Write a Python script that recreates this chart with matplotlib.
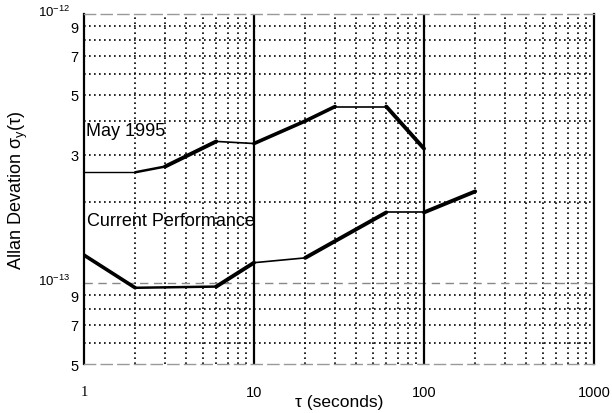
import matplotlib
matplotlib.use("Agg")
import matplotlib.pyplot as plt
import matplotlib.transforms as mtransforms
from matplotlib.ticker import FixedLocator, NullFormatter, NullLocator

plt.rcParams['font.family'] = ['Liberation Sans', 'DejaVu Sans']
plt.rcParams['mathtext.fontset'] = 'custom'
plt.rcParams['mathtext.rm'] = 'Liberation Sans'
plt.rcParams['mathtext.it'] = 'Liberation Sans'
plt.rcParams['mathtext.default'] = 'regular'

# data
tau_may = [1, 2, 3, 6, 10, 20, 30, 60, 100]
adev_may = [2.58e-13, 2.58e-13, 2.71e-13, 3.36e-13, 3.30e-13, 4.0e-13, 4.53e-13, 4.53e-13, 3.16e-13]

tau_now = [1, 2, 6, 10, 20, 60, 100, 200]
adev_now = [1.27e-13, 9.6e-14, 9.7e-14, 1.19e-13, 1.24e-13, 1.83e-13, 1.83e-13, 2.19e-13]

xticks = [1, 10, 100, 1000]
xticklabels = ["1", "10", "100", "1000"]
yticks = [5e-14, 7e-14, 9e-14, 1e-13, 3e-13, 5e-13, 7e-13, 9e-13, 1e-12]
yticklabels = ["5", "7", "9", r"$10^{-13}$", "3", "5", "7", "9", r"$10^{-12}$"]

# scanned line weight varies segment by segment
w_may = [1.0, 1.8, 2.8, 1.2, 2.6, 2.6, 1.2, 2.8]
w_now = [2.6, 1.8, 2.8, 1.2, 2.8, 1.2, 2.8]

fig = plt.figure(figsize=(6.12, 4.14), dpi=100)
ax = fig.add_axes([84/612, 1-365/414, 510/612, 350/414])
ax.set_xscale('log')
ax.set_yscale('log')
ax.set_xlim(1, 1000)
ax.set_ylim(5e-14, 1e-12)

dot = (0, (1, 2))
# minor grid lines
for dec in [1, 10, 100]:
    for m in range(2, 10):
        ax.axvline(dec*m, color='black', ls=dot, lw=1.2, zorder=1)
for v in [6e-14, 7e-14, 8e-14, 9e-14] + [m*1e-13 for m in range(2, 10)]:
    ax.axhline(v, color='black', ls=dot, lw=1.2, zorder=1)
ax.axhline(1e-13, color='#888888', ls=(0, (6, 4)), lw=1.0, zorder=1)
for v in [10, 100]:
    ax.axvline(v, color='black', lw=1.6, zorder=2)

for i in range(len(tau_may)-1):
    ax.plot(tau_may[i:i+2], adev_may[i:i+2], color='black', lw=w_may[i],
            solid_capstyle='round', zorder=3)
for i in range(len(tau_now)-1):
    ax.plot(tau_now[i:i+2], adev_now[i:i+2], color='black', lw=w_now[i],
            solid_capstyle='round', zorder=3)

ax.text(1.03, 3.7e-13, "May 1995", fontsize=13, va='center', ha='left')
ax.text(1.04, 1.71e-13, "Current Performance", fontsize=13, va='center', ha='left')

ax.xaxis.set_major_locator(FixedLocator(xticks))
ax.xaxis.set_minor_locator(NullLocator())
ax.set_xticklabels(xticklabels)
ax.yaxis.set_major_locator(FixedLocator(yticks))
ax.yaxis.set_minor_locator(NullLocator())
ax.yaxis.set_minor_formatter(NullFormatter())
ax.set_yticklabels(yticklabels)
ax.tick_params(axis='x', length=0, pad=15, labelsize=10.5)
ax.tick_params(axis='y', length=0, pad=4, labelsize=10.5)
for lab in ax.get_xticklabels():
    if lab.get_text() == "1":
        lab.set_family('Liberation Serif')
# decade labels sit up and to the left of the 9s
shift = mtransforms.ScaledTranslation(-8/100, 4/100, fig.dpi_scale_trans)
for lab in ax.get_yticklabels():
    if "10" in lab.get_text():
        lab.set_transform(lab.get_transform() + shift)
        lab.set_fontsize(9.5)

ax.set_xlabel("τ (seconds)", fontsize=12.5)
ax.xaxis.set_label_coords(0.5, -0.085)
ax.set_ylabel(r"Allan Devation $\sigma_y(\tau)$", fontsize=13)
ax.yaxis.set_label_coords(-0.106, 0.5)

ax.spines['left'].set_linewidth(1.6)
ax.spines['right'].set_linewidth(1.6)
for side in ['top', 'bottom']:
    ax.spines[side].set_color('#999999')
    ax.spines[side].set_linestyle((0, (8, 4)))
    ax.spines[side].set_linewidth(1.0)

fig.savefig("out.png", dpi=100)
